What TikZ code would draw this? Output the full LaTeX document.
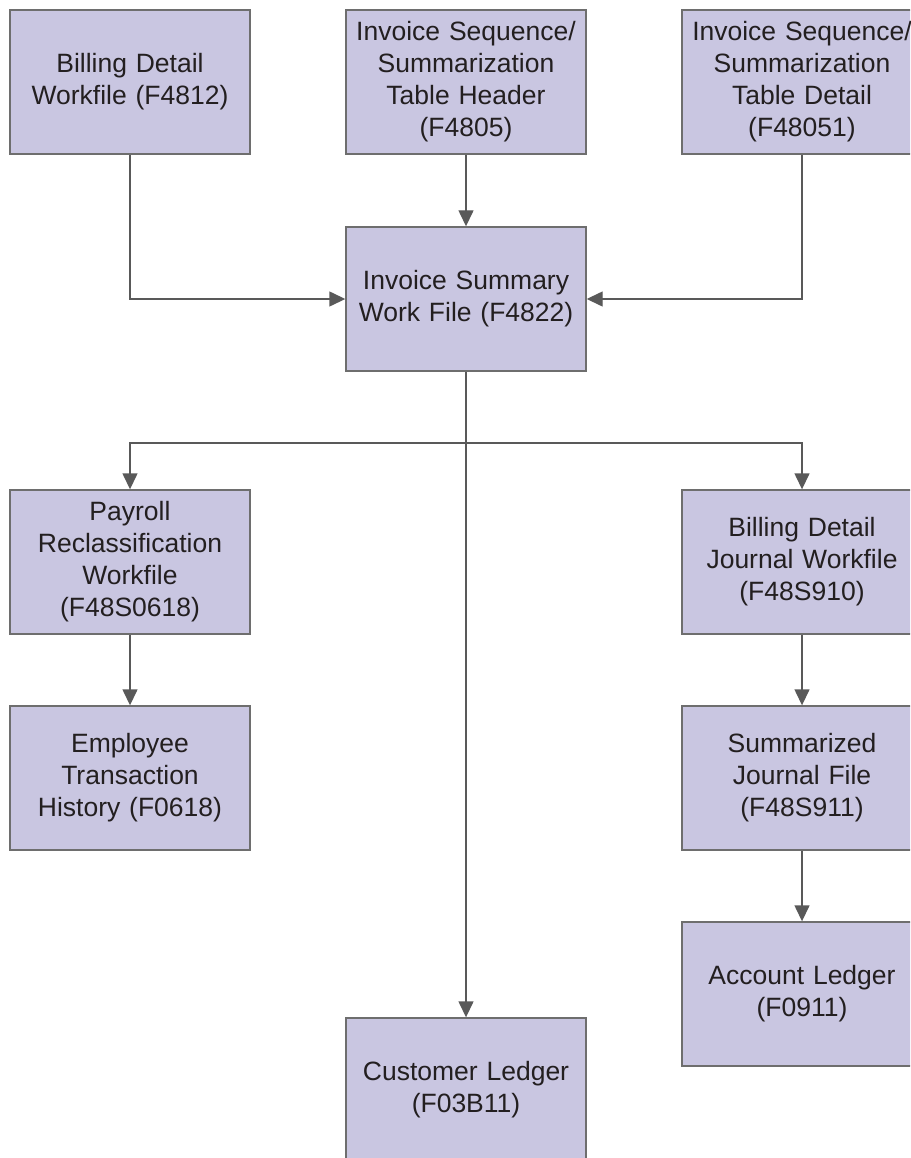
\documentclass[tikz,border=0pt]{standalone}
\usepackage{fontspec}
\setmainfont{Liberation Sans}
\usetikzlibrary{arrows.meta}
\definecolor{boxfill}{HTML}{C9C6E1}
\definecolor{boxline}{HTML}{6E6E6E}
\definecolor{flowgray}{HTML}{595959}
\definecolor{inkgray}{HTML}{231F20}
\tikzset{
  tbl/.style={draw=boxline, fill=boxfill, line width=1.4pt, minimum width=240pt,
    minimum height=144pt, text width=238pt, align=center, inner sep=0pt,
    text=inkgray, font=\fontsize{26.5}{32}\selectfont},
  flow/.style={draw=flowgray, line width=1.4pt, -{Triangle[length=16pt,width=15pt]}}
}
\begin{document}
\begin{tikzpicture}[x=1pt,y=-1pt]
	\useasboundingbox (0,0) rectangle (910,1158);
	\clip (0,0) rectangle (910,1158);
	% tables
	\node[tbl] (bdw) at (130,82) {Billing Detail\\Workfile (F4812)};
	\node[tbl] (hdr) at (466,82) {Invoice Sequence/\\Summarization\\Table Header\\(F4805)};
	\node[tbl] (dtl) at (802,82) {Invoice Sequence/\\Summarization\\Table Detail\\(F48051)};
	\node[tbl] (isw) at (466,299) {Invoice Summary\\Work File (F4822)};
	\node[tbl] (pay) at (130,562) {Payroll\\Reclassification\\Workfile\\(F48S0618)};
	\node[tbl] (bdj) at (802,562) {Billing Detail\\Journal Workfile\\(F48S910)};
	\node[tbl] (emp) at (130,778) {Employee\\Transaction\\History (F0618)};
	\node[tbl] (sjf) at (802,778) {Summarized\\Journal File\\(F48S911)};
	\node[tbl] (acl) at (802,994) {Account Ledger\\(F0911)};
	\node[tbl] (cul) at (466,1090) {Customer Ledger\\(F03B11)};
	\coordinate (split) at (466,443);
	% connectors
	\draw[flow] (bdw.south) |- (isw.west);
	\draw[flow] (hdr.south) -- (isw.north);
	\draw[flow] (dtl.south) |- (isw.east);
	\draw[flow] (isw.south) -- (cul.north);
	\draw[flow] (split) -| (pay.north);
	\draw[flow] (split) -| (bdj.north);
	\draw[flow] (pay.south) -- (emp.north);
	\draw[flow] (bdj.south) -- (sjf.north);
	\draw[flow] (sjf.south) -- (acl.north);
\end{tikzpicture}
\end{document}
